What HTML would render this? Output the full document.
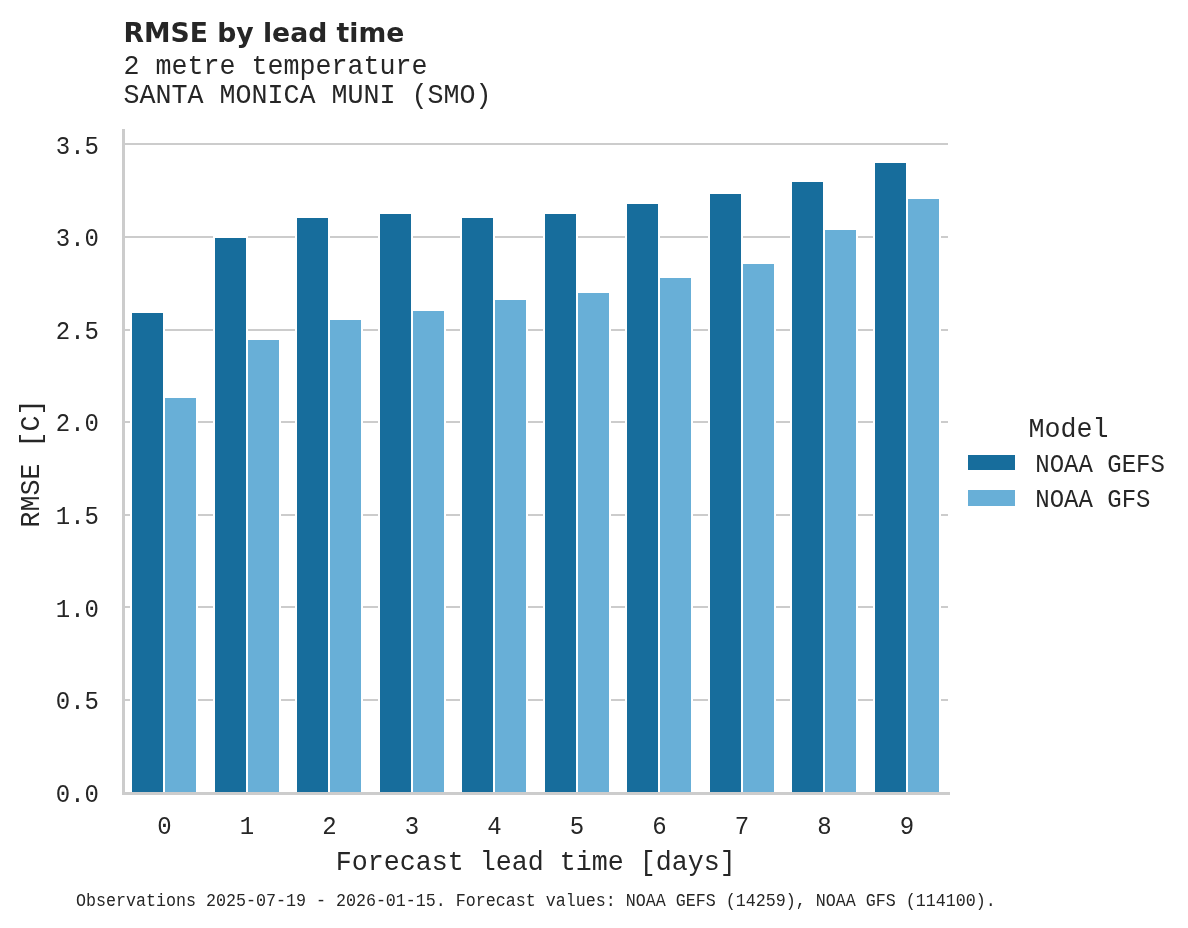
<!DOCTYPE html>
<html lang="en"><head><meta charset="utf-8"><title>RMSE by lead time</title>
<style>
html,body{margin:0;padding:0;background:#fff;}
body{width:1188px;height:928px;overflow:hidden;}
svg{display:block;}
text{fill:#262626;}
.m{font-family:"Liberation Mono","DejaVu Sans Mono",monospace;}
.t{font-family:"DejaVu Sans","Liberation Sans",sans-serif;font-weight:bold;font-size:26.67px;}
.big{font-size:26.67px;}
.tick{font-size:24px;}
.leg{font-size:24px;}
.foot{font-size:16.67px;}
</style></head><body>
<svg width="1188" height="928" viewBox="0 0 1188 928">
<rect x="0" y="0" width="1188" height="928" fill="#ffffff"/>

<g fill="#cccccc" shape-rendering="crispEdges">
<rect x="123" y="699" width="825" height="2"/>
<rect x="123" y="606" width="825" height="2"/>
<rect x="123" y="514" width="825" height="2"/>
<rect x="123" y="421" width="825" height="2"/>
<rect x="123" y="329" width="825" height="2"/>
<rect x="123" y="236" width="825" height="2"/>
<rect x="123" y="143" width="825" height="2"/>
</g>
<g shape-rendering="crispEdges">
<rect x="130" y="311" width="35" height="481" fill="#fff"/>
<rect x="132" y="313" width="31" height="479" fill="#176d9c"/>
<rect x="163" y="396" width="35" height="396" fill="#fff"/>
<rect x="165" y="398" width="31" height="394" fill="#68afd7"/>
<rect x="213" y="236" width="35" height="556" fill="#fff"/>
<rect x="215" y="238" width="31" height="554" fill="#176d9c"/>
<rect x="246" y="338" width="35" height="454" fill="#fff"/>
<rect x="248" y="340" width="31" height="452" fill="#68afd7"/>
<rect x="295" y="216" width="35" height="576" fill="#fff"/>
<rect x="297" y="218" width="31" height="574" fill="#176d9c"/>
<rect x="328" y="318" width="35" height="474" fill="#fff"/>
<rect x="330" y="320" width="31" height="472" fill="#68afd7"/>
<rect x="378" y="212" width="35" height="580" fill="#fff"/>
<rect x="380" y="214" width="31" height="578" fill="#176d9c"/>
<rect x="411" y="309" width="35" height="483" fill="#fff"/>
<rect x="413" y="311" width="31" height="481" fill="#68afd7"/>
<rect x="460" y="216" width="35" height="576" fill="#fff"/>
<rect x="462" y="218" width="31" height="574" fill="#176d9c"/>
<rect x="493" y="298" width="35" height="494" fill="#fff"/>
<rect x="495" y="300" width="31" height="492" fill="#68afd7"/>
<rect x="543" y="212" width="35" height="580" fill="#fff"/>
<rect x="545" y="214" width="31" height="578" fill="#176d9c"/>
<rect x="576" y="291" width="35" height="501" fill="#fff"/>
<rect x="578" y="293" width="31" height="499" fill="#68afd7"/>
<rect x="625" y="202" width="35" height="590" fill="#fff"/>
<rect x="627" y="204" width="31" height="588" fill="#176d9c"/>
<rect x="658" y="276" width="35" height="516" fill="#fff"/>
<rect x="660" y="278" width="31" height="514" fill="#68afd7"/>
<rect x="708" y="192" width="35" height="600" fill="#fff"/>
<rect x="710" y="194" width="31" height="598" fill="#176d9c"/>
<rect x="741" y="262" width="35" height="530" fill="#fff"/>
<rect x="743" y="264" width="31" height="528" fill="#68afd7"/>
<rect x="790" y="180" width="35" height="612" fill="#fff"/>
<rect x="792" y="182" width="31" height="610" fill="#176d9c"/>
<rect x="823" y="228" width="35" height="564" fill="#fff"/>
<rect x="825" y="230" width="31" height="562" fill="#68afd7"/>
<rect x="873" y="161" width="35" height="631" fill="#fff"/>
<rect x="875" y="163" width="31" height="629" fill="#176d9c"/>
<rect x="906" y="197" width="35" height="595" fill="#fff"/>
<rect x="908" y="199" width="31" height="593" fill="#68afd7"/>
</g>
<g fill="#cccccc" shape-rendering="crispEdges">
<rect x="122" y="129" width="3" height="666"/>
<rect x="122" y="792" width="828" height="3"/>
</g>
<text class="t" x="123.5" y="42">RMSE by lead time</text>
<text class="m big" transform="translate(123.5,74) scale(1,1.07)">2 metre temperature</text>
<text class="m big" transform="translate(123.5,103) scale(1,1.07)">SANTA MONICA MUNI (SMO)</text>
<text class="m tick" transform="translate(99,801.6) scale(1,1.07)" text-anchor="end">0.0</text>
<text class="m tick" transform="translate(99,709.0) scale(1,1.07)" text-anchor="end">0.5</text>
<text class="m tick" transform="translate(99,616.5) scale(1,1.07)" text-anchor="end">1.0</text>
<text class="m tick" transform="translate(99,523.9) scale(1,1.07)" text-anchor="end">1.5</text>
<text class="m tick" transform="translate(99,431.3) scale(1,1.07)" text-anchor="end">2.0</text>
<text class="m tick" transform="translate(99,338.8) scale(1,1.07)" text-anchor="end">2.5</text>
<text class="m tick" transform="translate(99,246.2) scale(1,1.07)" text-anchor="end">3.0</text>
<text class="m tick" transform="translate(99,153.6) scale(1,1.07)" text-anchor="end">3.5</text>
<text class="m tick" transform="translate(164.4,834) scale(1,1.07)" text-anchor="middle">0</text>
<text class="m tick" transform="translate(246.9,834) scale(1,1.07)" text-anchor="middle">1</text>
<text class="m tick" transform="translate(329.4,834) scale(1,1.07)" text-anchor="middle">2</text>
<text class="m tick" transform="translate(411.9,834) scale(1,1.07)" text-anchor="middle">3</text>
<text class="m tick" transform="translate(494.4,834) scale(1,1.07)" text-anchor="middle">4</text>
<text class="m tick" transform="translate(576.9,834) scale(1,1.07)" text-anchor="middle">5</text>
<text class="m tick" transform="translate(659.4,834) scale(1,1.07)" text-anchor="middle">6</text>
<text class="m tick" transform="translate(741.9,834) scale(1,1.07)" text-anchor="middle">7</text>
<text class="m tick" transform="translate(824.4,834) scale(1,1.07)" text-anchor="middle">8</text>
<text class="m tick" transform="translate(906.9,834) scale(1,1.07)" text-anchor="middle">9</text>
<text class="m big" transform="translate(535.75,870) scale(1,1.07)" text-anchor="middle">Forecast lead time [days]</text>
<text class="m big" transform="translate(39,463.5) rotate(-90) scale(1,1.07)" text-anchor="middle">RMSE [C]</text>
<text class="m big" transform="translate(1028.5,436.7) scale(1,1.07)">Model</text>
<rect x="968" y="455" width="47" height="15" fill="#176d9c" shape-rendering="crispEdges"/>
<rect x="968" y="490" width="47" height="16" fill="#68afd7" shape-rendering="crispEdges"/>
<text class="m leg" transform="translate(1035.3,472) scale(1,1.07)">NOAA GEFS</text>
<text class="m leg" transform="translate(1035.3,507) scale(1,1.07)">NOAA GFS</text>
<text class="m foot" transform="translate(76,905.7) scale(1,1.07)">Observations 2025-07-19 - 2026-01-15. Forecast values: NOAA GEFS (14259), NOAA GFS (114100).</text>
</svg></body></html>
